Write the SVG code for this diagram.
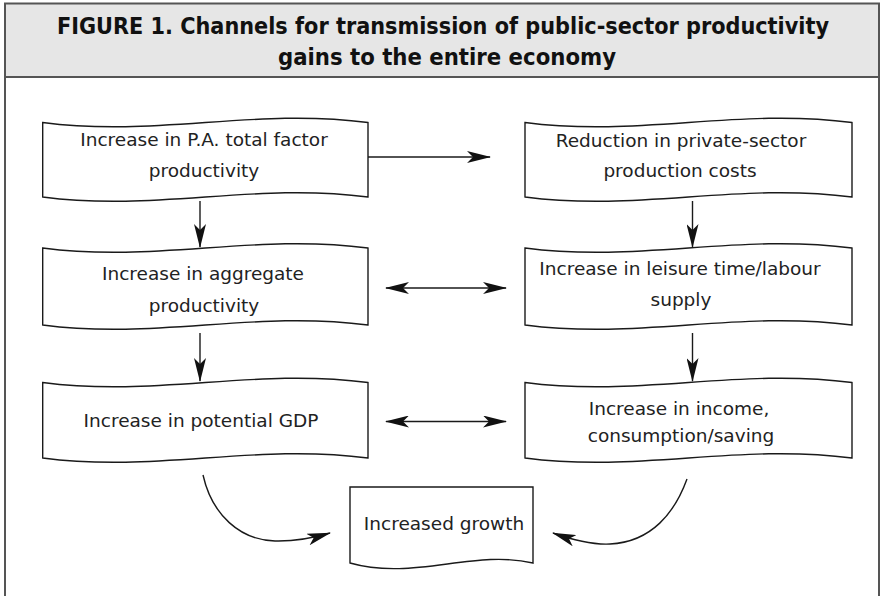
<svg xmlns="http://www.w3.org/2000/svg" width="884" height="596" viewBox="0 0 884 596">
  <style>
    .box { fill: #ffffff; stroke: #1a1a1a; stroke-width: 1.4; }
    .lbl { font-family: "DejaVu Sans", "Liberation Sans", sans-serif; font-size: 18.5px; fill: #222; text-anchor: middle; }
    .title { font-family: "DejaVu Sans Condensed", "DejaVu Sans", sans-serif; font-weight: bold; font-size: 23px; fill: #111; text-anchor: middle; }
    .conn { fill: none; stroke: #1a1a1a; stroke-width: 1.4; }
  </style>
  <defs>
    <marker id="ah" viewBox="0 0 24 12" refX="23" refY="6" markerWidth="24" markerHeight="12" markerUnits="userSpaceOnUse" orient="auto-start-reverse">
      <path d="M0,0 L24,6 L0,12 L6,6 Z" fill="#111"/>
    </marker>
  </defs>

  <rect x="0" y="0" width="884" height="596" fill="#ffffff"/>
  <g id="frame">
    <rect x="5" y="77" width="874" height="530" fill="#ffffff" stroke="#555" stroke-width="2"/>
    <rect x="5" y="3.5" width="874" height="73.5" fill="#e6e6e6" stroke="#555" stroke-width="2"/>
    <text class="title" x="443" y="33.5" textLength="772" lengthAdjust="spacingAndGlyphs">FIGURE 1. Channels for transmission of public-sector productivity</text>
    <text class="title" x="447" y="65" textLength="338" lengthAdjust="spacingAndGlyphs">gains to the entire economy</text>
  </g>

  <g id="node-a">
    <path class="box" d="M42.7,122.5 C156.5,137.5 254.2,107.5 368,122.5 L368,197 C254.2,182 156.5,212 42.7,197 Z"/>
    <text class="lbl" x="204" y="146">Increase in P.A. total factor</text>
    <text class="lbl" x="204" y="177">productivity</text>
  </g>
  <g id="node-b">
    <path class="box" d="M525,122.5 C639.5,137.5 737.5,107.5 852,122.5 L852,197 C737.5,182 639.5,212 525,197 Z"/>
    <text class="lbl" x="681" y="146.5">Reduction in private-sector</text>
    <text class="lbl" x="680" y="177">production costs</text>
  </g>
  <g id="node-c">
    <path class="box" d="M42.7,248 C156.5,263 254.2,233 368,248 L368,325 C254.2,310 156.5,340 42.7,325 Z"/>
    <text class="lbl" x="203" y="280">Increase in aggregate</text>
    <text class="lbl" x="204" y="311.5">productivity</text>
  </g>
  <g id="node-d">
    <path class="box" d="M525,248 C639.5,263 737.5,233 852,248 L852,325 C737.5,310 639.5,340 525,325 Z"/>
    <text class="lbl" x="680" y="275">Increase in leisure time/labour</text>
    <text class="lbl" x="681" y="306">supply</text>
  </g>
  <g id="node-e">
    <path class="box" d="M42.7,382.5 C156.5,397.5 254.2,367.5 368,382.5 L368,458 C254.2,443 156.5,473 42.7,458 Z"/>
    <text class="lbl" x="201" y="427">Increase in potential GDP</text>
  </g>
  <g id="node-f">
    <path class="box" d="M525,382.5 C639.5,397.5 737.5,367.5 852,382.5 L852,458 C737.5,443 639.5,473 525,458 Z"/>
    <text class="lbl" x="679" y="415">Increase in income,</text>
    <text class="lbl" x="681" y="442">consumption/saving</text>
  </g>
  <g id="node-g">
    <path class="box" d="M350,487 L533,487 L533,563 C474,549 413,581 350,563 Z"/>
    <text class="lbl" x="444" y="530">Increased growth</text>
  </g>

  <g id="connectors">
    <line class="conn" x1="368" y1="157" x2="490" y2="157" marker-end="url(#ah)"/>
    <line class="conn" x1="200" y1="201" x2="200" y2="247" marker-end="url(#ah)"/>
    <line class="conn" x1="692.5" y1="201" x2="692.5" y2="247" marker-end="url(#ah)"/>
    <line class="conn" x1="200" y1="333" x2="200" y2="381" marker-end="url(#ah)"/>
    <line class="conn" x1="692.5" y1="333" x2="692.5" y2="381" marker-end="url(#ah)"/>
    <line class="conn" x1="386" y1="288" x2="506" y2="288" marker-start="url(#ah)" marker-end="url(#ah)"/>
    <line class="conn" x1="386" y1="421.5" x2="506" y2="421.5" marker-start="url(#ah)" marker-end="url(#ah)"/>
    <path class="conn" d="M203,475 C212,515 240,540 275,541 C295,541.5 313,538 330,533" marker-end="url(#ah)"/>
    <path class="conn" d="M687,479 C675,512 652,542 610,544 C590,545 570,539 553,533" marker-end="url(#ah)"/>
  </g>
</svg>
